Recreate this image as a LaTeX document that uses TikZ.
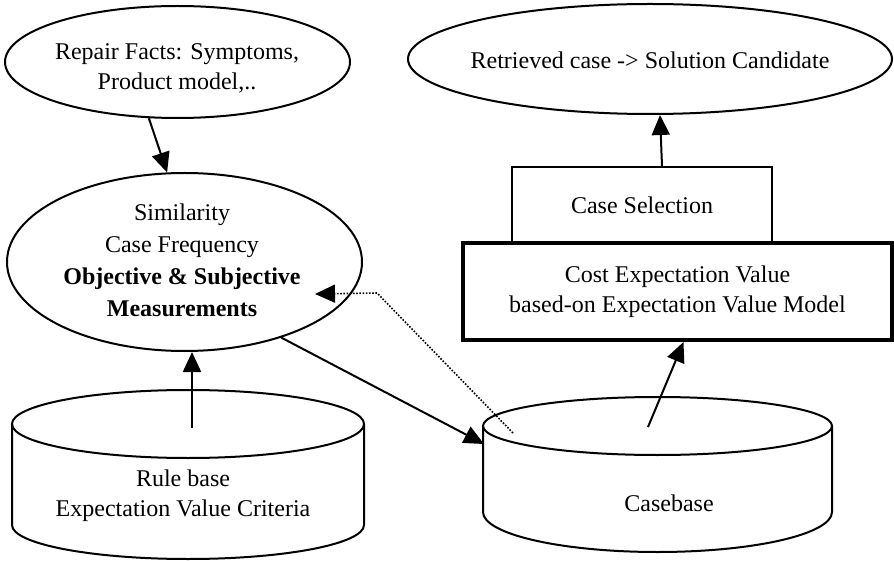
\documentclass[tikz,border=0pt]{standalone}
\usepackage{fontspec}
\setmainfont{Liberation Serif}
\usepackage{xcolor}
\usepackage{tikz}
\usetikzlibrary{calc,arrows.meta,shapes.geometric}
\definecolor{ink}{HTML}{000000}
\tikzset{
  line/.style={draw=ink, line width=1pt},
  thickline/.style={draw=ink, line width=2pt},
  dotline/.style={draw=ink, line width=0.8pt, dash pattern=on 0.8pt off 0.8pt},
  arr/.style={-{Triangle[length=10pt,width=9pt]}},
  oval/.style={ellipse, line, inner sep=0pt},
  box/.style={rectangle, line, inner sep=0pt},
  lbl/.style={text=ink, font=\fontsize{12}{15}\selectfont, align=center}
}

\begin{document}
\begin{tikzpicture}[x=0.5pt, y=-0.5pt]
  \useasboundingbox (0,0) rectangle (894,561);

  % ellipses
  \node[oval, minimum width=172.5pt, minimum height=56pt] (facts) at (177.5,62) {};
  \node[oval, minimum width=242pt, minimum height=55pt] (result) at (650,59) {};
  \node[oval, minimum width=177.5pt, minimum height=89pt] (measure) at (184.5,262) {};
  \node[lbl] (facts-t) at (177,68) {Repair Facts: Symptoms,\\Product model,..};
  \node[lbl] (result-t) at (650,60) {Retrieved case -> Solution Candidate};
  \node[lbl, font=\fontsize{12}{16}\selectfont] (measure-t) at (182,260) {Similarity\\Case Frequency\\\textbf{Objective \& Subjective}\\\textbf{Measurements}};

  % boxes
  \node[box, lbl, minimum width=130pt, minimum height=38pt] (select) at (642,205) {Case Selection};
  \node[box, thickline, lbl, minimum width=214.5pt, minimum height=48.5pt] (cost) at (677.5,291.5) {Cost Expectation Value\\based-on Expectation Value Model};

  % rule base cylinder
  \draw[line] (12,424) -- (12,525) arc[start angle=180, end angle=0, x radius=176, y radius=34] -- (364,424);
  \draw[line] (188,424) ellipse[x radius=176, y radius=34];
  \node[lbl] (rules) at (183,496) {Rule base\\Expectation Value Criteria};

  % casebase cylinder
  \draw[line] (483,426) -- (483,512) arc[start angle=180, end angle=0, x radius=174.5, y radius=40] -- (832,426);
  \draw[line] (657.5,426) ellipse[x radius=174.5, y radius=29];
  \node[lbl] (cases) at (669,503) {Casebase};

  \coordinate (rules-top) at (192,428);
  \coordinate (cases-top) at (648,427);
  \coordinate (cases-in) at (513,433);
  \coordinate (cases-rim) at (484,444);
  \coordinate (dot-bend) at (377,293);
  \coordinate (measure-in) at (315,294);

  % connectors
  \draw[line, arr] (facts.-117) -- (measure.101);
  \draw[line, arr] ([xshift=10pt]select.north) -- ([xshift=5pt]result.south);
  \draw[line, arr] (rules-top) -- (rules-top |- measure.south);
  \draw[line, arr] (measure.-38) -- (cases-rim);
  \draw[line, arr] (cases-top) -- ([xshift=3pt]cost.south);
  \draw[dotline, arr] (cases-in) -- (dot-bend) -- (measure-in);
\end{tikzpicture}
\end{document}
